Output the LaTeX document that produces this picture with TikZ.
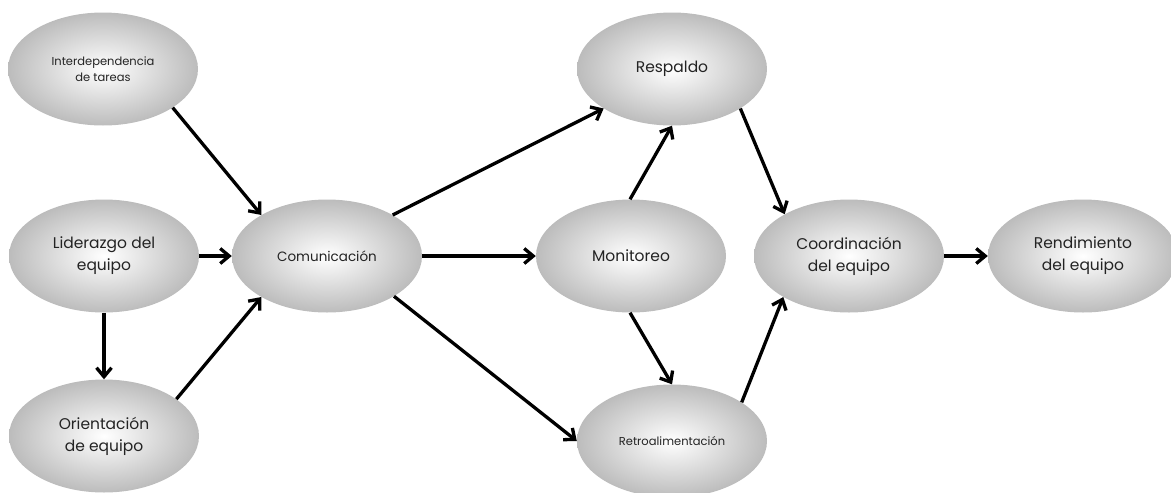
\documentclass[tikz,border=0pt]{standalone}
\usepackage{fontspec}
\setmainfont{Poppins}
\usetikzlibrary{shapes.geometric,arrows.meta}
\definecolor{rim}{RGB}{188,188,188}
\definecolor{ink}{RGB}{35,35,35}
\tikzset{
  bubble/.style={ellipse, minimum width=190pt, minimum height=113pt, inner sep=0pt,
    inner color=white, outer color=rim, align=center, text=ink,
    font=\fontsize{15.5}{22}\selectfont},
  smalltext/.style={font=\fontsize{11.5}{16}\selectfont},
  midtext/.style={font=\fontsize{13.5}{18}\selectfont},
  link/.style={line width=3.3pt, -{Straight Barb[length=9pt,width=15pt]}},
}
\begin{document}
\begin{tikzpicture}[x=1pt,y=-1pt]
\useasboundingbox (0,0) rectangle (1171,493);
% factors
\node[bubble,smalltext] (inter)  at (103,69)  {Interdependencia\\de tareas};
\node[bubble]           (lider)  at (104,256) {Liderazgo del\\equipo};
\node[bubble]           (orient) at (104,436) {Orientación\\de equipo};
% processes
\node[bubble,midtext]   (com)    at (327,256) {Comunicación};
\node[bubble]           (resp)   at (672,69)  {Respaldo};
\node[bubble]           (moni)   at (631,256) {Monitoreo};
\node[bubble,smalltext] (retro)  at (672,441) {Retroalimentación};
% outcomes
\node[bubble]           (coord)  at (849,256) {Coordinación\\del equipo};
\node[bubble]           (rend)   at (1083,256) {Rendimiento\\del equipo};
% links
\draw[link] (inter.-29.5) -- (com.148.4);
\draw[link] (lider.east)  -- (com.west);
\draw[link] (orient.27.9) -- (com.212.5);
\draw[link] (lider.south) -- (orient.north);
\draw[link] (com.32.7)    -- (resp.210.7);
\draw[link] (com.east)    -- (moni.west);
\draw[link] (com.-31.5)   -- (retro.west);
\draw[link] (moni.91)     -- (resp.south);
\draw[link] (moni.-91)    -- (retro.north);
\draw[link] (resp.-30.8)  -- (coord.147.9);
\draw[link] (retro.29.8)  -- (coord.212.1);
\draw[link] (coord.east)  -- (rend.west);
\end{tikzpicture}
\end{document}
